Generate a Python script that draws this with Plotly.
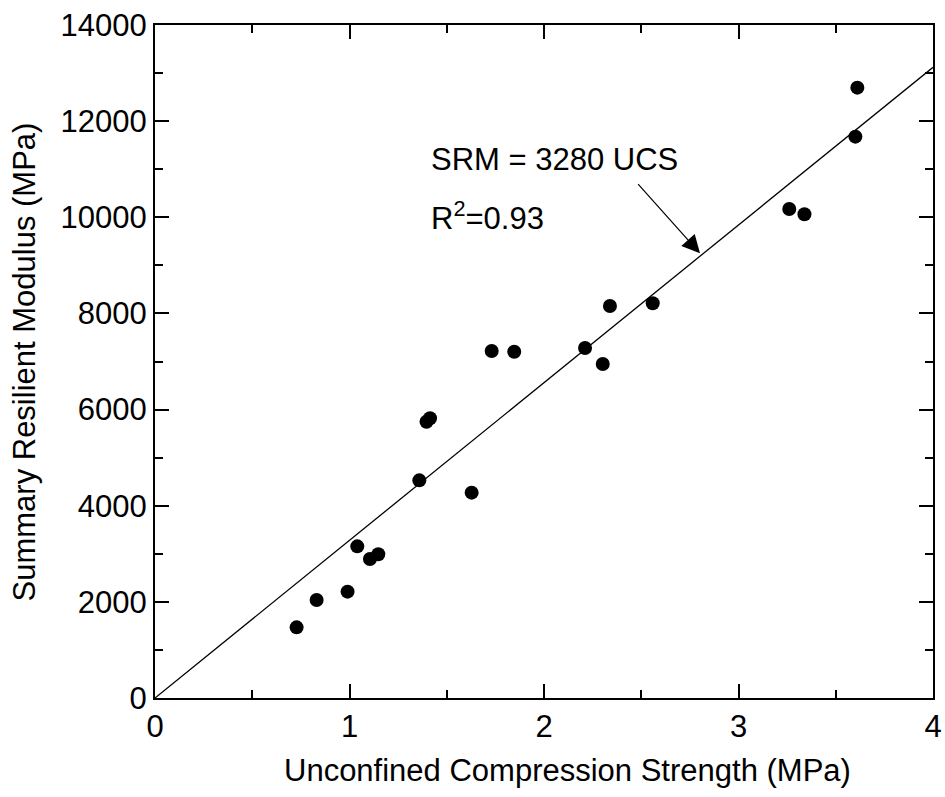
import plotly.graph_objects as go

ucs = [0.728, 0.831, 0.990, 1.040, 1.105, 1.148, 1.359, 1.396, 1.414, 1.628,
       1.731, 1.847, 2.211, 2.302, 2.339, 2.559, 3.261, 3.339, 3.601, 3.611]
srm = [1470, 2039, 2212, 3155, 2892, 2989, 4528, 5748, 5818, 4272,
       7219, 7204, 7281, 6948, 8155, 8211, 10173, 10062, 11677, 12697]

fit_x = [0, 4]
slope = 3280
fit_y = [slope * v for v in fit_x]

x_title = "Unconfined Compression Strength (MPa)"
y_title = "Summary Resilient Modulus (MPa)"

FONT = "Liberation Sans, Arial, Helvetica, sans-serif"
fs = 31

fig = go.Figure()
fig.add_trace(go.Scatter(x=fit_x, y=fit_y, mode="lines",
                         line=dict(color="black", width=1.3), showlegend=False))
fig.add_trace(go.Scatter(x=ucs, y=srm, mode="markers",
                         marker=dict(color="black", size=14), showlegend=False))

axis_common = dict(showline=True, linecolor="black", linewidth=2, mirror="ticks",
                   ticks="inside", ticklen=14, tickwidth=2, tickcolor="black",
                   showgrid=False, zeroline=False, automargin=False,
                   tickfont=dict(family=FONT, size=fs, color="black"))

fig.update_xaxes(range=[0, 4], dtick=1, tick0=0,
                 minor=dict(dtick=0.5, ticks="inside", ticklen=8, tickwidth=2, tickcolor="black"),
                 **axis_common)
fig.update_yaxes(range=[0, 14000], dtick=2000, tick0=0, tickformat="d",
                 minor=dict(dtick=1000, ticks="inside", ticklen=8, tickwidth=2, tickcolor="black"),
                 **axis_common)

# axis titles as annotations (positioned like the reference)
fig.add_annotation(x=0.5296, y=-0.108, xref="paper", yref="paper", text=x_title,
                   showarrow=False, xanchor="center", yanchor="middle",
                   font=dict(family=FONT, size=fs, color="black"))
fig.add_annotation(x=-0.1671, y=0.5, xref="paper", yref="paper", text=y_title,
                   showarrow=False, xanchor="center", yanchor="middle", textangle=-90,
                   font=dict(family=FONT, size=fs, color="black"))

fig.add_annotation(x=1.409, y=11192, xref="x", yref="y", text="SRM = 3280 UCS",
                   showarrow=False, xanchor="left", yanchor="middle",
                   font=dict(family=FONT, size=fs, color="black"))
fig.add_annotation(x=1.409, y=10027, xref="x", yref="y", text="R<sup>2</sup>=0.93",
                   showarrow=False, xanchor="left", yanchor="middle",
                   font=dict(family=FONT, size=fs, color="black"))
fig.add_annotation(x=2.802, y=9250, ax=2.477, ay=10720, xref="x", yref="y",
                   axref="x", ayref="y", text="", showarrow=True,
                   arrowhead=2, arrowsize=3, arrowwidth=1.2, arrowcolor="black")

fig.update_layout(width=945, height=797, paper_bgcolor="white", plot_bgcolor="white",
                  margin=dict(l=155, r=12, t=25, b=99),
                  font=dict(family=FONT, size=fs, color="black"))

fig.write_html("out.html", config={"displayModeBar": False},
               post_script="document.body.style.margin='0';")
